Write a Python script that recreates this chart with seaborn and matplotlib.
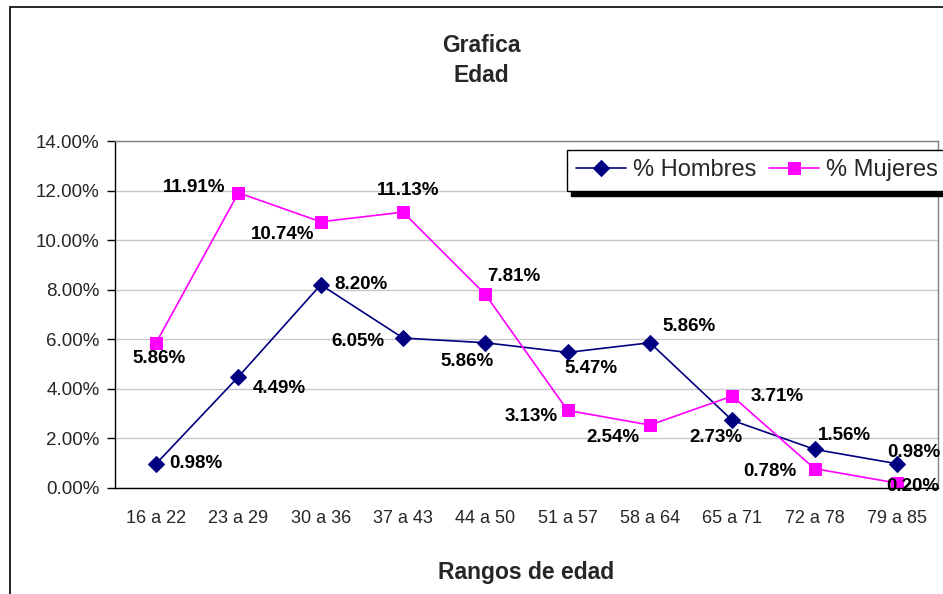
import matplotlib
matplotlib.use('Agg')
import matplotlib.pyplot as plt
import matplotlib.patches as patches
from matplotlib.ticker import FuncFormatter, FixedLocator
import seaborn as sns
import pandas as pd

# Data
rangos = ['16 a 22', '23 a 29', '30 a 36', '37 a 43', '44 a 50',
          '51 a 57', '58 a 64', '65 a 71', '72 a 78', '79 a 85']
hombres = [0.98, 4.49, 8.20, 6.05, 5.86, 5.47, 5.86, 2.73, 1.56, 0.98]
mujeres = [5.86, 11.91, 10.74, 11.13, 7.81, 3.13, 2.54, 3.71, 0.78, 0.20]

# label offsets in pixels (dx, dy, ha)
off_h = [(13, 0, 'left'), (14, -12, 'left'), (14, 0, 'left'), (-19, -3, 'right'),
         (-18, -19, 'center'), (23, -16, 'center'), (13, 16, 'left'),
         (-16, -17, 'center'), (30, 14, 'center'), (17, 11, 'center')]
off_m = [(3, -16, 'center'), (-13, 5, 'right'), (-6, -13, 'right'), (5, 22, 'center'),
         (29, 18, 'center'), (-10, -6, 'right'), (-10, -12, 'right'), (18, 0, 'left'),
         (-18, -3, 'right'), (43, -3, 'right')]

sns.set_style('white')
plt.rcParams['font.family'] = ['Liberation Sans', 'DejaVu Sans']

df = pd.DataFrame({'rango': rangos, 'hombres': hombres, 'mujeres': mujeres})

fig = plt.figure(figsize=(9.43, 5.94), dpi=100)
ax = fig.add_axes([115 / 943, 1 - 488 / 594, (938 - 115) / 943, (488 - 141) / 594])

sns.lineplot(data=df, x='rango', y='hombres', ax=ax, color='#000080', marker='D',
             markersize=8, markeredgecolor='#000080', linewidth=1.2, label='% Hombres', sort=False)
sns.lineplot(data=df, x='rango', y='mujeres', ax=ax, color='#FF00FF', marker='s',
             markersize=9, markeredgecolor='#FF00FF', linewidth=1.2, label='% Mujeres', sort=False)

# data labels
for i, v in enumerate(hombres):
    dx, dy, ha = off_h[i]
    ax.annotate(f'{v:.2f}%', (i, v), xytext=(dx, dy), textcoords='offset pixels',
                ha=ha, va='center', fontsize=13.5, fontweight='bold', color='black',
                annotation_clip=False)
for i, v in enumerate(mujeres):
    dx, dy, ha = off_m[i]
    ax.annotate(f'{v:.2f}%', (i, v), xytext=(dx, dy), textcoords='offset pixels',
                ha=ha, va='center', fontsize=13.5, fontweight='bold', color='black',
                annotation_clip=False)

ax.set_xlim(-0.5, 9.5)
ax.set_ylim(0, 14)
ax.set_yticks([0, 2, 4, 6, 8, 10, 12, 14])
ax.yaxis.set_major_formatter(FuncFormatter(lambda v, p: f'{v:.2f}%'))
ax.grid(axis='y', color='#c8c8c8', linewidth=1)
ax.set_axisbelow(True)

# ticks between categories, labels centered
ax.xaxis.set_minor_locator(FixedLocator([x - 0.5 for x in range(11)]))
ax.tick_params(axis='x', which='major', length=0, pad=16, labelsize=13)
ax.tick_params(axis='x', which='minor', length=6, width=1, color='black', direction='out')
ax.tick_params(axis='y', which='major', length=6, width=1, color='black', direction='out',
               labelsize=13.5, left=True, pad=5)

for s in ['left', 'bottom']:
    ax.spines[s].set_color('black')
    ax.spines[s].set_linewidth(1)
for s in ['top', 'right']:
    ax.spines[s].set_color('#808080')
    ax.spines[s].set_linewidth(1)

ax.set_xlabel('Rangos de edad', fontsize=16.5, fontweight='bold', labelpad=24)
ax.set_ylabel('')

fig.text(481 / 943, 1 - 45 / 594, 'Grafica', ha='center', va='center', fontsize=16.5, fontweight='bold')
fig.text(481 / 943, 1 - 75 / 594, 'Edad', ha='center', va='center', fontsize=16.5, fontweight='bold')

ax.get_legend().remove()
h, l = ax.get_legend_handles_labels()
leg = fig.legend(h, l, loc='upper left', bbox_to_anchor=(567 / 943, 1 - 150 / 594),
                 ncol=2, fontsize=17, frameon=True, fancybox=False, edgecolor='black',
                 framealpha=1, handlelength=2.1, handletextpad=0.3, columnspacing=0.55,
                 borderpad=0.4, borderaxespad=0,
                 shadow={'ox': 3, 'oy': -4, 'color': 'black', 'alpha': 1})
leg.get_frame().set_linewidth(1)

# outer chart border (cut off at right and bottom)
fig.patches.append(patches.Rectangle((9.5 / 943, -0.1), 2, 1 - 7 / 594 + 0.1,
                                     transform=fig.transFigure, fill=False,
                                     edgecolor='black', linewidth=1.2))

fig.savefig('out.png', dpi=100)
